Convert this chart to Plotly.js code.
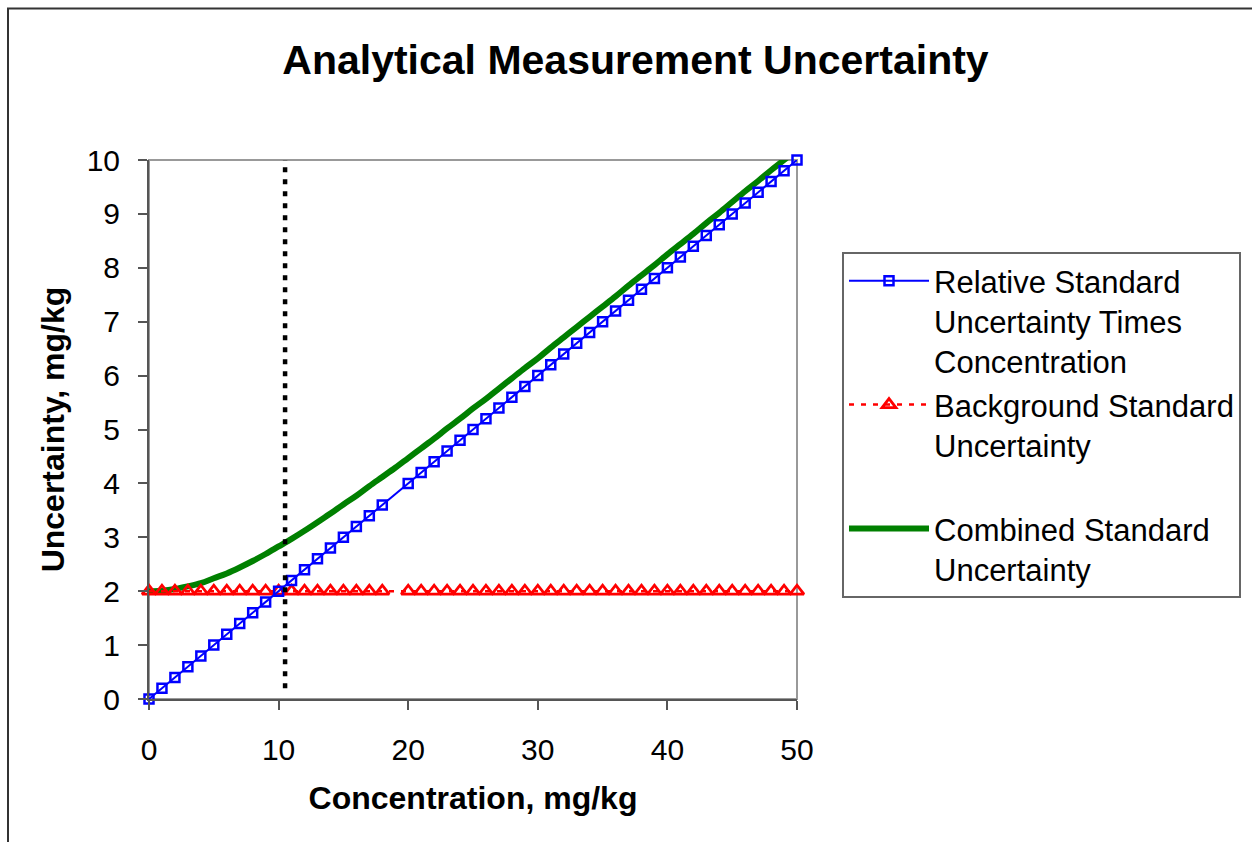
<!DOCTYPE html>
<html>
<head>
<meta charset="utf-8">
<script src="https://cdn.plot.ly/plotly-3.0.1.min.js"></script>
<style>
  html, body { margin: 0; padding: 0; background: #ffffff; }
  #chart { width: 1252px; height: 842px; }
</style>
</head>
<body>
<div id="chart"></div>
<script>
// Concentration, mg/kg (point 19 is missing from the marker series)
const concentration = [0,1,2,3,4,5,6,7,8,9,10,11,12,13,14,15,16,17,18,19,20,21,22,23,24,25,26,27,28,29,30,31,32,33,34,35,36,37,38,39,40,41,42,43,44,45,46,47,48,49,50];
// Relative standard uncertainty times concentration, mg/kg
const relativeUnc = [0,0.2,0.4,0.6,0.8,1.0,1.2,1.4,1.6,1.8,2.0,2.2,2.4,2.6,2.8,3.0,3.2,3.4,3.6,null,4.0,4.2,4.4,4.6,4.8,5.0,5.2,5.4,5.6,5.8,6.0,6.2,6.4,6.6,6.8,7.0,7.2,7.4,7.6,7.8,8.0,8.2,8.4,8.6,8.8,9.0,9.2,9.4,9.6,9.8,10.0];
// Background standard uncertainty, mg/kg
const backgroundUnc = [2,2,2,2,2,2,2,2,2,2,2,2,2,2,2,2,2,2,2,null,2,2,2,2,2,2,2,2,2,2,2,2,2,2,2,2,2,2,2,2,2,2,2,2,2,2,2,2,2,2,2];
// Combined standard uncertainty, mg/kg
const combinedUnc = [2.00,2.01,2.04,2.09,2.15,2.24,2.33,2.44,2.56,2.69,2.83,2.97,3.12,3.28,3.44,3.61,3.77,3.95,4.12,4.29,4.47,4.65,4.83,5.02,5.20,5.39,5.57,5.76,5.95,6.14,6.32,6.52,6.71,6.90,7.09,7.28,7.47,7.67,7.86,8.05,8.25,8.44,8.63,8.83,9.02,9.22,9.42,9.61,9.81,10.00,10.20];
// Vertical reference line (concentration) and its vertical extent
const limitConc = 10.5;
const limitSpan = [0.2, 10.15];

const xTicks = [0,10,20,30,40,50];
const yTicks = [0,1,2,3,4,5,6,7,8,9,10];

const seriesNames = [
  'Relative Standard<br>Uncertainty Times<br>Concentration',
  'Background Standard<br>Uncertainty<br>&nbsp;',
  'Combined Standard<br>Uncertainty'
];

const FONT = 'Liberation Sans, Arial, sans-serif';

const traces = [
  {
    x: concentration, y: combinedUnc, name: seriesNames[2], legendrank: 3,
    type: 'scatter', mode: 'lines', line: {color: '#008000', width: 6, shape: 'spline'}
  },
  {
    x: concentration, y: backgroundUnc, name: seriesNames[1], legendrank: 2,
    type: 'scatter', mode: 'lines+markers', connectgaps: true,
    line: {color: '#ff0000', width: 2.5, dash: '5px,7px'},
    marker: {symbol: 'triangle-up-open', size: 12, color: '#ff0000', line: {width: 2.8, color: '#ff0000'}},
    cliponaxis: false
  },
  {
    x: concentration, y: relativeUnc, name: seriesNames[0], legendrank: 1,
    type: 'scatter', mode: 'lines+markers', connectgaps: true,
    line: {color: '#0000ff', width: 2},
    marker: {symbol: 'square-open', size: 9, color: '#0000ff', line: {width: 2.5, color: '#0000ff'}},
    cliponaxis: false
  }
];

const L = 149, R = 797, T = 160, B = 699;
const pw = R - L, ph = B - T;
const px = v => (v - L) / pw;
const py = v => (B - v) / ph;

const layout = {
  width: 1252, height: 842,
  margin: {l: L, r: 1252 - R, t: T, b: 842 - B, autoexpand: false},
  paper_bgcolor: '#ffffff', plot_bgcolor: '#ffffff',
  font: {family: FONT, color: '#000000'},
  title: {
    text: '<b>Analytical Measurement Uncertainty</b>',
    font: {family: FONT, size: 41, color: '#000000'},
    x: 635.5 / 1252, xanchor: 'center', xref: 'container',
    y: 1 - 60 / 842, yanchor: 'middle', yref: 'container'
  },
  xaxis: {
    range: [0, 50], tickvals: xTicks, ticktext: xTicks.map(String),
    ticks: 'outside', ticklen: 9, tickwidth: 2, tickcolor: '#555555',
    showline: true, linecolor: '#555555', linewidth: 2,
    showgrid: false, zeroline: false,
    tickfont: {family: FONT, size: 30, color: '#000000'},
    ticklabelstandoff: 14,
    title: {text: '<b>Concentration, mg/kg</b>', font: {family: FONT, size: 32, color: '#000000'}, standoff: 22}
  },
  yaxis: {
    range: [0, 10], tickvals: yTicks, ticktext: yTicks.map(String),
    ticks: 'outside', ticklen: 9, tickwidth: 2, tickcolor: '#555555',
    showline: true, linecolor: '#555555', linewidth: 2,
    showgrid: false, zeroline: false,
    tickfont: {family: FONT, size: 30, color: '#000000'},
    ticklabelstandoff: 12,
    title: {text: '<b>Uncertainty, mg/kg</b>', font: {family: FONT, size: 32, color: '#000000'}, standoff: 12}
  },
  showlegend: true,
  legend: {
    x: px(842), y: py(252), xanchor: 'left', yanchor: 'top',
    bgcolor: '#ffffff', bordercolor: '#666666', borderwidth: 2,
    font: {family: FONT, size: 31, color: '#000000'},
    valign: 'top', itemwidth: 80, tracegroupgap: 0,
    traceorder: 'normal'
  },
  shapes: [
    // plot frame (top & right in light gray)
    {type: 'rect', xref: 'paper', yref: 'paper', x0: 0, x1: 1, y0: 0, y1: 1,
     line: {color: '#999999', width: 2}, layer: 'below'},
    // outer chart border
    {type: 'rect', xref: 'paper', yref: 'paper',
     x0: px(8), x1: px(1270), y0: py(860), y1: py(8.5),
     line: {color: '#333333', width: 2}, layer: 'above'},
    // vertical dotted reference line
    {type: 'line', xref: 'x', yref: 'y', x0: limitConc, x1: limitConc, y0: limitSpan[0], y1: limitSpan[1],
     line: {color: '#000000', width: 4.5, dash: '5px,7px'}, layer: 'above'}
  ]
};

Plotly.newPlot('chart', traces, layout, {displayModeBar: false, staticPlot: true});
</script>
</body>
</html>
